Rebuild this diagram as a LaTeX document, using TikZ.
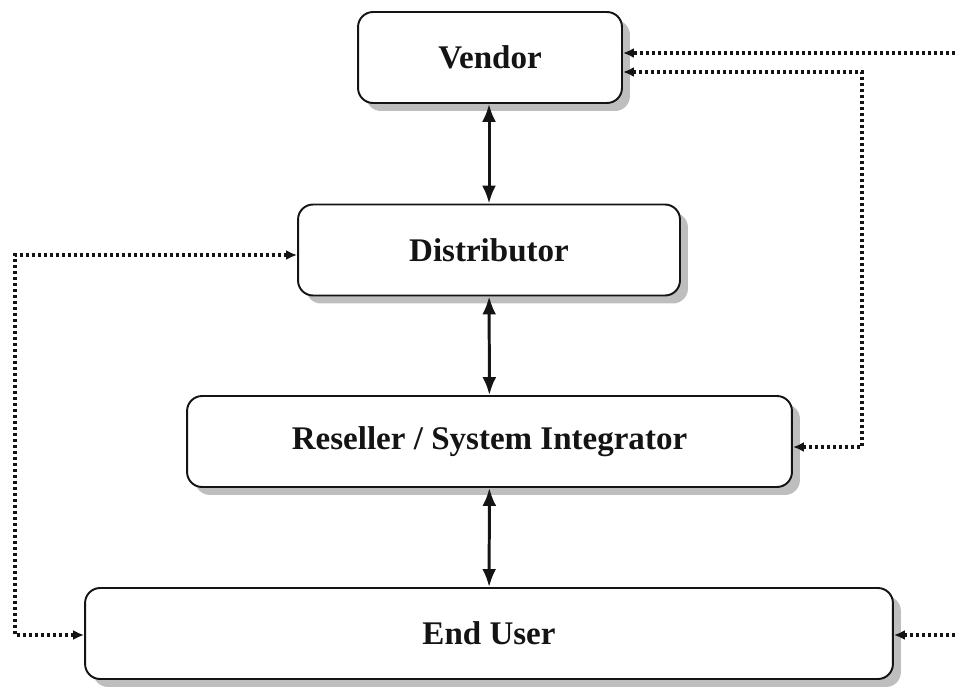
\documentclass[tikz,border=0pt]{standalone}
\usepackage{fontspec}
\setmainfont{Liberation Serif}
\usetikzlibrary{arrows.meta,shadows}
\definecolor{ChanInk}{RGB}{20,20,20}
\definecolor{ChanShadow}{RGB}{190,190,190}
\tikzset{
  chan/box/.style={
    draw=ChanInk,
    line width=1.1pt,
    rounded corners=0.3cm,
    fill=white,
    align=center,
    text=ChanInk,
    minimum height=1.82cm,
    font=\fontsize{18.8}{22}\selectfont\bfseries,
    drop shadow={shadow xshift=0.16cm, shadow yshift=-0.16cm, fill=ChanShadow, opacity=1}
  },
  chan/link/.style={{Latex[length=0.36cm,width=0.28cm]}-{Latex[length=0.36cm,width=0.28cm]}, line width=1.7pt, draw=ChanInk},
  chan/dotlink/.style={line width=0.065cm, dash pattern=on 0.065cm off 0.055cm, draw=ChanInk},
  chan/dottip/.style={-{Latex[length=0.22cm,width=0.2cm]}},
  chan/dottips/.style={{Latex[length=0.22cm,width=0.2cm]}-{Latex[length=0.22cm,width=0.2cm]}}
}
\begin{document}
\begin{tikzpicture}[x=0.02cm,y=-0.02cm]
  \useasboundingbox (0,0) rectangle (955,686);
  \node[chan/box,minimum width=5.28cm] (vendor) at (490,57.5) {Vendor};
  \node[chan/box,minimum width=7.64cm] (distributor) at (489,250) {Distributor};
  \node[chan/box,minimum width=12.1cm] (reseller) at (489.5,441.5) {Reseller / System Integrator};
  \node[chan/box,minimum width=16.16cm] (enduser) at (489,633.5) {End User};
  % solid links down the chain
  \draw[chan/link] (vendor.south -| distributor.north) -- (distributor.north);
  \draw[chan/link] (distributor) -- (reseller);
  \draw[chan/link] (reseller) -- (enduser);
  % dotted feedback paths
  \coordinate (vfeed) at (955,53);
  \coordinate (efeed) at (955,635);
  \coordinate (rtop) at (862,72);
  \coordinate (rbot) at (862,447);
  \coordinate (ltop) at (15,255);
  \coordinate (lbot) at (15,635);
  \draw[chan/dotlink,chan/dottip] (vfeed) -- (vendor.east |- vfeed);
  \draw[chan/dotlink,chan/dottip] (efeed) -- (enduser.east |- efeed);
  \draw[chan/dotlink,chan/dottips] (reseller.east |- rbot) -- (rbot) -- (rtop) -- (vendor.east |- rtop);
  \draw[chan/dotlink,chan/dottips] (distributor.west |- ltop) -- (ltop) -- (lbot) -- (enduser.west |- lbot);
\end{tikzpicture}
\end{document}
